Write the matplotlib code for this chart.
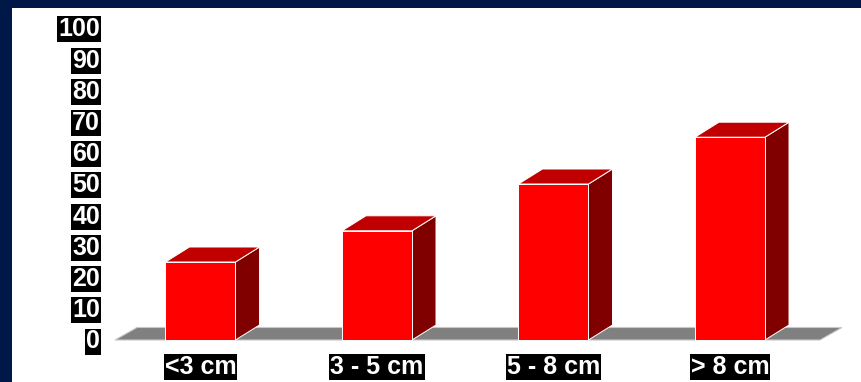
import matplotlib
matplotlib.use("Agg")
import matplotlib.pyplot as plt
from matplotlib.patches import Polygon, Rectangle

categories = ["<3 cm", "3 - 5 cm", "5 - 8 cm", "> 8 cm"]
values = [25, 35, 50, 65]
yticks = [0, 10, 20, 30, 40, 50, 60, 70, 80, 90, 100]

W, H = 862, 382
fig = plt.figure(figsize=(W / 100, H / 100), dpi=100)
fig.patch.set_facecolor("#001848")

ax = fig.add_axes([0, 0, 1, 1])
ax.set_facecolor("none")
# pixel mapping: x_px = 200.5 + 176.5*i ; y_px(from top) = 340 - 3.12*v
sx, x0 = 176.5, 200.5
sy, y0 = 3.12, 340
ax.set_xlim((0 - x0) / sx, (W - x0) / sx)
ax.set_ylim((y0 - H) / sy, y0 / sy)
ax.axis("off")

# white panel
ax.add_patch(Rectangle((12 / W, 0), 1, (H - 8) / H, transform=ax.transAxes,
                       facecolor="white", edgecolor="none", zorder=0))

bw = 70 / sx
dx = 24 / sx
dy = 15 / sy

# floor
fl, fr = (115 - x0) / sx, (820 - x0) / sx
fdx, fdy = 22 / sx, 12.5 / sy
ax.add_patch(Polygon([(fl, 0), (fr, 0), (fr + fdx, fdy), (fl + fdx, fdy)],
                     closed=True, facecolor="#808080", edgecolor="#c8c8c8", lw=0.8, zorder=1))

font = "Liberation Sans"
fs = 18
for i, (c, v) in enumerate(zip(categories, values)):
    l, r = i - bw / 2, i + bw / 2
    # side
    ax.add_patch(Polygon([(r, 0), (r + dx, dy), (r + dx, v + dy), (r, v)], closed=True,
                         facecolor="#800000", edgecolor="white", lw=0.7, zorder=2))
    # top
    ax.add_patch(Polygon([(l, v), (r, v), (r + dx, v + dy), (l + dx, v + dy)], closed=True,
                         facecolor="#c00000", edgecolor="white", lw=0.7, zorder=2))
    # front
    ax.add_patch(Rectangle((l, 0), bw, v, facecolor="#ff0000", edgecolor="white",
                           lw=0.7, zorder=3))
    ax.text(i, -27 / sy, c, ha="center", va="center", color="white",
            fontsize=fs, fontweight="bold", family=font, zorder=4,
            bbox=dict(boxstyle="square,pad=0.04", facecolor="black", edgecolor="none"))

ylab_x = (100 - x0) / sx
for t in yticks:
    ax.text(ylab_x, t - 1.5 / sy, str(t), ha="right", va="center", color="white",
            fontsize=fs, fontweight="bold", family=font, zorder=4,
            bbox=dict(boxstyle="square,pad=0.04", facecolor="black", edgecolor="none"))

fig.savefig("out.png", dpi=100, facecolor=fig.get_facecolor())
